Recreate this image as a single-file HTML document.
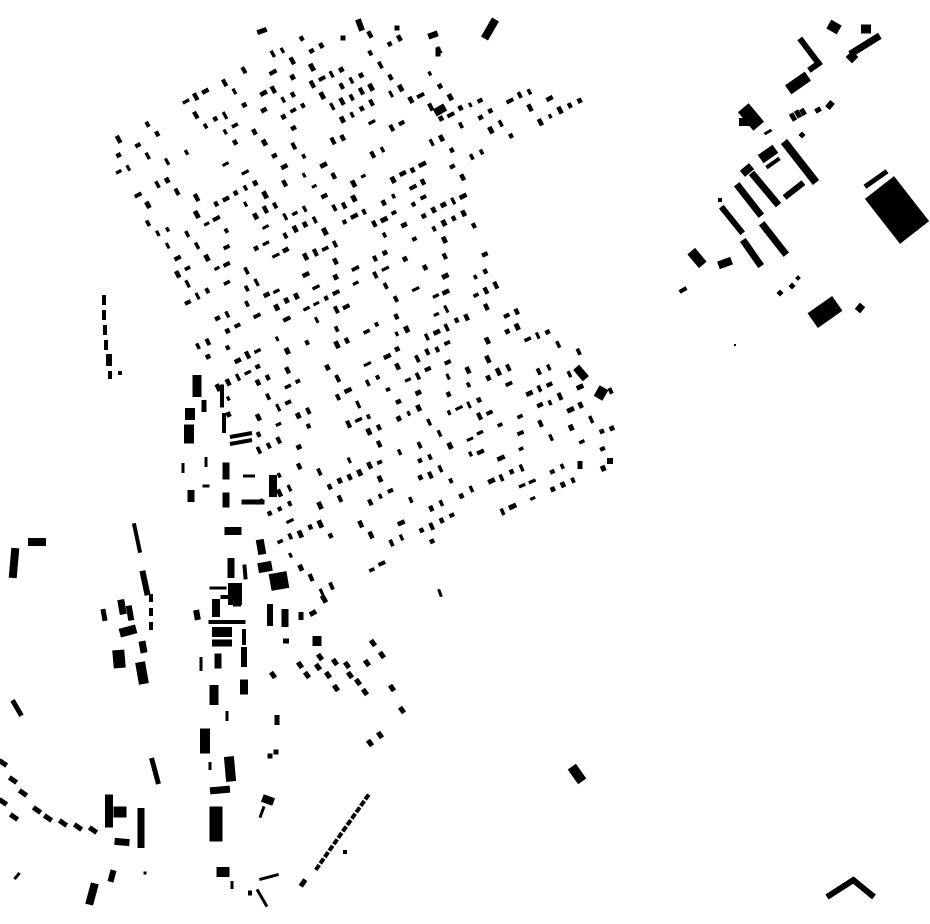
<!DOCTYPE html>
<html><head><meta charset="utf-8"><style>
html,body{margin:0;padding:0;background:#fff;width:930px;height:924px;overflow:hidden}
svg{display:block}
</style></head><body>
<svg id="s" width="930" height="924" viewBox="0 0 930 924" xmlns="http://www.w3.org/2000/svg"><g id="g" fill="#000"></g></svg>
<script>
var out="";
function R(cx,cy,w,h,a){out+='<rect x="'+(-w/2)+'" y="'+(-h/2)+'" width="'+w+'" height="'+h+'" transform="translate('+cx+' '+cy+') rotate('+(a||0)+')"/>';}
function B(x1,y1,x2,y2,t){var cx=(x1+x2)/2,cy=(y1+y2)/2,dx=x2-x1,dy=y2-y1;R(cx,cy,Math.sqrt(dx*dx+dy*dy),t,Math.atan2(dy,dx)*180/Math.PI);}
var seed=12345;function rnd(){seed|=0;seed=seed+0x6D2B79F5|0;var t=Math.imul(seed^seed>>>15,1|seed);t=t+Math.imul(t^t>>>7,61|t)^t;return((t^t>>>14)>>>0)/4294967296;}
var poly=[[110,70],[250,28],[440,35],[448,95],[600,86],[603,97],[470,172],[465,200],[500,285],[530,315],[575,345],[612,390],[612,470],[565,492],[340,602],[320,595],[290,555],[262,520],[245,455],[230,420],[200,375],[185,330],[170,280],[150,230],[120,180],[92,135]];
function inside(x,y){var c=false;for(var i=0,j=poly.length-1;i<poly.length;j=i++){var xi=poly[i][0],yi=poly[i][1],xj=poly[j][0],yj=poly[j][1];if(((yi>y)!=(yj>y))&&(x<(xj-xi)*(y-yi)/(yj-yi)+xi))c=!c;}return c;}
for(var c=40;c<=614;c+=17){var s=-0.55+(c-40)/572*0.11;var ang=Math.atan(s)*180/Math.PI;var step=11*Math.cos(Math.atan(s));
 for(var x=80;x<620;x+=step){var y=c+s*(x-300)+(rnd()-0.5)*3;if(!inside(x,y))continue;if(rnd()>0.45)continue;
  var w=3+rnd()*2,h=4.5+rnd()*3.5;if(rnd()<0.3){var t=w;w=h;h=t;}R(x.toFixed(1),y.toFixed(1),w.toFixed(1),h.toFixed(1),ang.toFixed(1));}}
// top misc
R(490,29,8,22,30);R(360,25,6,12,-20);R(262,31,10,5,-20);R(343,38,5,5);R(397,28,5,5);R(433,35,10,6,-20);R(438,52,5,9);R(440,110,12,8,-30);
// right cluster
R(810,52,34,6,53);R(815,66,15,6,-35);R(798,83,24,11,-35);R(834,27,12,10,30);R(866,29,10,9);R(865,45,35,7,-32);R(852,57,9,9,45);
R(751,117,24,14,50);R(745,122,12,8);R(768,132,8,3,-30);R(793,117,5,8,-30);R(798,114,5,8,-30);R(803,112,5,7,-30);R(818,110,6,5,-30);R(830,105,6,8,40);R(802,135,5,5,45);
R(800,162,52,8,52);R(768,154,18,10,-35);R(773,163,16,4,-35);R(747,170,12,8,-40);R(794,190,24,6,-38);R(765,189,42,7,50);R(749,200,40,7,52);
R(732,220,34,6,51);R(720,200,4,4);R(774,239,40,7,52);R(752,253,32,7,55);R(697,258,18,10,50);R(725,263,14,8,-20);R(683,290,8,4,-30);
R(780,293,5,5,45);R(792,286,5,5,45);R(798,278,4,4,45);R(825,312,30,18,-35);R(860,308,7,8,40);R(897,210,57,37,52);R(876,179,27,5,-35);R(735,345,2,2);
// left dashed vertical
R(104,300,4,10);R(104,315,4,10);R(105,330,4,10);R(106,345,4,10);R(109,360,6,12);R(110,375,4,8);R(120,373,4,4);
// left column
R(197,386,9,22);R(190,414,10,12);R(189,434,10,19);R(204,406,5,12);R(222,396,4,23);R(224,423,4,20);B(230,437,252,433,4);B(230,444,252,440,4);
R(183,468,3,10);R(206,462,3,10);R(226,471,7,17);R(249,476,12,3);R(273,486,8,22);R(253,502,23,5);R(226,500,7,15);R(191,496,7,12);R(206,486,7,3);
R(233,531,17,8);R(261,547,8,15,-10);R(265,567,14,10,-10);R(279,581,18,17,-10);R(231,568,7,20);R(245,572,4,15,-5);R(218,588,17,3);R(235,594,14,22);R(216,605,7,10);
R(216,608,8,18);R(237,598,8,17);R(227,597,13,4);R(227,622,37,4);R(222,632,20,10);R(222,643,20,7);R(244,637,4,16);R(218,661,7,15);R(244,657,6,20);
R(197,615,6,10,-10);R(201,664,3,14);R(214,695,9,20);R(244,687,8,15);R(227,716,3,10);R(205,741,10,25);R(210,766,3,8);R(230,769,10,25,-5);R(220,790,20,7,-5);
R(216,824,13,35);R(223,872,13,10);R(232,885,3,8);R(277,720,5,10);R(276,752,5,5);R(270,756,5,5);R(268,800,12,8,20);R(262,812,3,12,20);
R(262,898,3,20,-30);R(269,877,20,3,-15);R(250,893,4,5);R(303,883,5,8,35);
R(270,615,6,22);R(285,618,7,18);R(301,616,5,8);R(313,613,7,5,-30);R(324,599,5,8,-30);R(286,641,6,5);R(317,641,9,10);
// dot cluster
[[300,665],[307,675],[318,667],[320,657],[328,675],[335,662],[336,688],[347,665],[350,675],[358,682],[365,692],[373,643],[382,655],[367,663],[392,688],[402,710],[380,735],[370,743],[273,675]].forEach(function(p){R(p[0],p[1],5,7,-35);});
// diagonal row
for(var i=0;i<=11;i++){R(367-i*4.5,797+i*6.4,6,4,-55);}R(345,852,4,4);
// left items
R(14,563,8,30,5);R(37,542,18,8);R(137,538,4,30,-12);R(145,583,6,25,-12);R(151,598,4,8);R(151,612,4,8);R(151,626,4,8);
R(104,615,5,12,-10);R(122,607,7,15,-10);R(130,613,6,15,-10);R(128,631,17,9,-15);R(143,647,7,12,-10);R(119,659,12,18,-5);R(142,673,10,22,-10);
R(17,708,5,18,-30);R(155,771,5,27,-15);
[[3,763],[13,780],[23,793],[37,810],[48,818],[63,823],[78,827],[93,830],[3,802],[14,817]].forEach(function(p){R(p[0],p[1],9,5,35);});
R(109,811,8,33);R(120,812,13,11);R(141,828,7,40);R(122,842,15,7,5);R(112,876,6,12,15);R(92,894,8,22,15);R(17,876,3,8,40);R(145,873,3,3);
// right misc
R(581,373,8,15,-40);R(601,393,10,12,30);R(580,465,5,8);R(610,461,6,6);R(440,593,3,8,-20);R(577,774,10,18,-35);
B(827,897,855,879,6);B(852,879,874,897,6);
document.getElementById("g").innerHTML=out;
</script>
</body></html>
